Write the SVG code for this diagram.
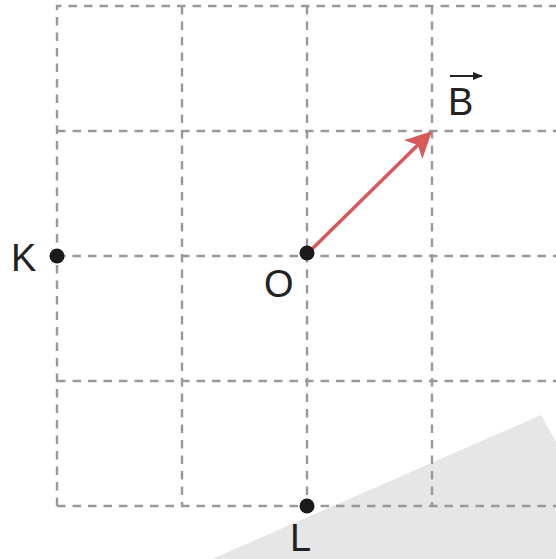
<svg xmlns="http://www.w3.org/2000/svg" width="556" height="559" viewBox="0 0 556 559">
<style>
.grid{stroke:#999;stroke-width:2.4;stroke-dasharray:8.5 7;fill:none}
.lbl{font-family:"Liberation Sans",Arial,sans-serif;font-size:38px;fill:#222}
.pt{fill:#1a1a1a}
</style>
<defs>
<marker id="ah" viewBox="0 0 10 10" refX="9" refY="5" markerWidth="7.5" markerHeight="7.5" markerUnits="strokeWidth" orient="auto">
<path d="M0,0 L10,5 L0,10 L2.5,5 Z" fill="#d9585a"/>
</marker>
<marker id="vh" viewBox="0 0 10 10" refX="9" refY="5" markerWidth="5" markerHeight="5" markerUnits="strokeWidth" orient="auto">
<path d="M0,1 L10,5 L0,9 Z" fill="#222"/>
</marker>
</defs>
<rect width="556" height="559" fill="#fff"/>
<polygon id="shade" points="212,559 541,415 556,442 556,559" fill="#e6e6e6"/>
<g id="grid">
<path class="grid" d="M57,506 V6 H556"/>
<path class="grid" d="M182,6 V506"/>
<path class="grid" d="M307,6 V506"/>
<path class="grid" d="M432,6 V506"/>
<path class="grid" d="M57,131 H556"/>
<path class="grid" d="M57,256 H556"/>
<path class="grid" d="M57,381 H556"/>
<path class="grid" d="M57,506 H556"/>
</g>
<g id="connectors">
<line x1="309" y1="252" x2="430" y2="133" stroke="#d9585a" stroke-width="3.5" marker-end="url(#ah)"/>
</g>
<g id="node-K"><circle class="pt" cx="57" cy="256" r="7.5"/><text class="lbl" x="11" y="271">K</text></g>
<g id="node-O"><circle class="pt" cx="307" cy="253" r="7.5"/><text class="lbl" x="264" y="297">O</text></g>
<g id="node-L"><circle class="pt" cx="307" cy="506" r="7.5"/><text class="lbl" x="290" y="551">L</text></g>
<g id="node-B"><text class="lbl" x="448" y="115">B</text><line x1="450" y1="76" x2="482" y2="76" stroke="#222" stroke-width="2" marker-end="url(#vh)"/></g>
</svg>
